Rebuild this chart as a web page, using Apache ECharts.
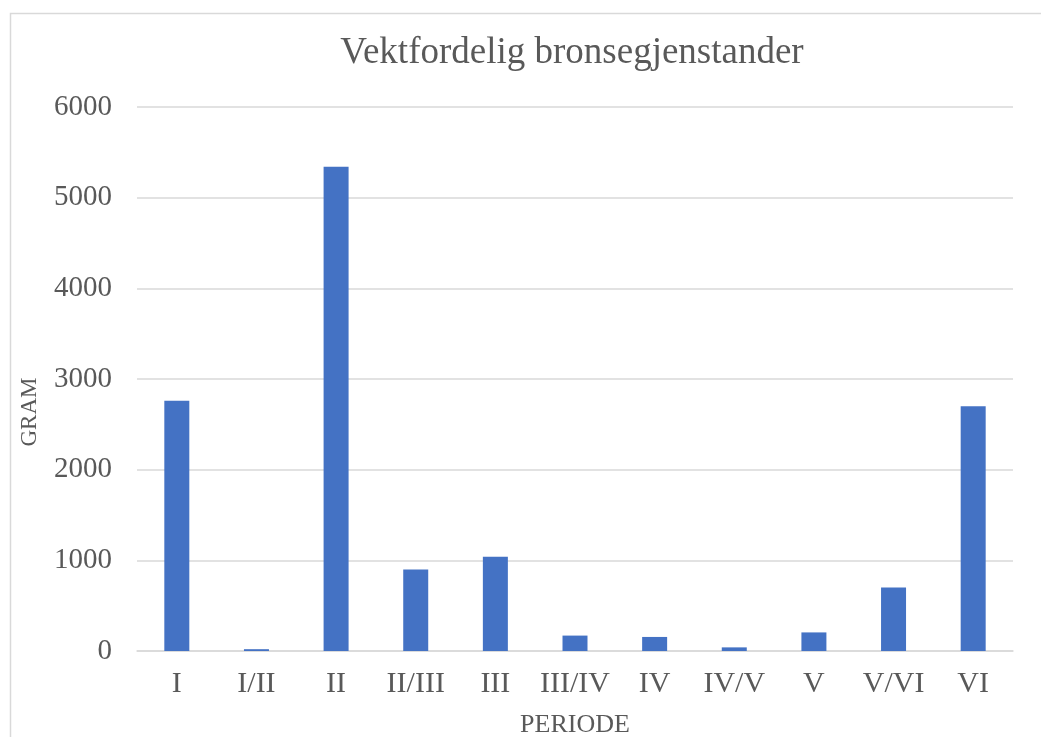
<!DOCTYPE html>
<html>
<head>
<meta charset="utf-8">
<script src="https://cdn.jsdelivr.net/npm/echarts@6/dist/echarts.min.js"></script>
<style>
  html, body { margin: 0; padding: 0; background: #fff; }
  #chart { width: 1041px; height: 737px; }
</style>
</head>
<body>
<div id="chart"></div>
<script>
var periods = ['I', 'I/II', 'II', 'II/III', 'III', 'III/IV', 'IV', 'IV/V', 'V', 'V/VI', 'VI'];
var grams = [2760, 20, 5340, 900, 1040, 170, 155, 40, 205, 700, 2700];
var yTicks = [0, 1000, 2000, 3000, 4000, 5000, 6000];

var serif = '"Liberation Serif", "Times New Roman", serif';
var textColor = '#595959';

var chart = echarts.init(document.getElementById('chart'));
chart.setOption({
  animation: false,
  textStyle: { fontFamily: serif },
  title: {
    text: 'Vektfordelig bronsegjenstander',
    left: 567, top: 30, textAlign: 'center',
    textStyle: { fontFamily: serif, fontWeight: 'normal', fontSize: 37, color: textColor }
  },
  graphic: [
    { type: 'rect', left: 8, top: 11, shape: { width: 1100, height: 800 },
      style: { fill: 'none', stroke: '#d9d9d9', lineWidth: 1.5 }, silent: true },
    { type: 'text', x: 30, y: 412, rotation: Math.PI / 2,
      style: { text: 'GRAM', fontFamily: serif, fontSize: 23, fill: textColor,
               align: 'center', verticalAlign: 'middle' } }
  ],
  grid: { left: 137, right: 28, top: 107, bottom: 86, outerBoundsMode: 'none' },
  xAxis: {
    type: 'category',
    data: periods,
    name: 'PERIODE',
    nameLocation: 'middle',
    nameGap: 61,
    nameTextStyle: { fontFamily: serif, fontSize: 26, color: textColor },
    axisLine: { lineStyle: { color: '#d9d9d9', width: 1.5 } },
    axisTick: { show: false },
    axisLabel: { fontFamily: serif, fontSize: 30, color: textColor, margin: 18, interval: 0 }
  },
  yAxis: {
    type: 'value',
    min: yTicks[0], max: yTicks[yTicks.length - 1], interval: 1000,
    axisLine: { show: false },
    axisTick: { show: false },
    splitLine: { lineStyle: { color: '#d9d9d9', width: 1.5 } },
    axisLabel: { fontFamily: serif, fontSize: 29, color: textColor, margin: 25,
                 formatter: function (v) { return String(v); } }
  },
  series: [{
    type: 'bar',
    data: grams,
    barWidth: 25,
    itemStyle: { color: '#4472C4' }
  }]
});
</script>
</body>
</html>
